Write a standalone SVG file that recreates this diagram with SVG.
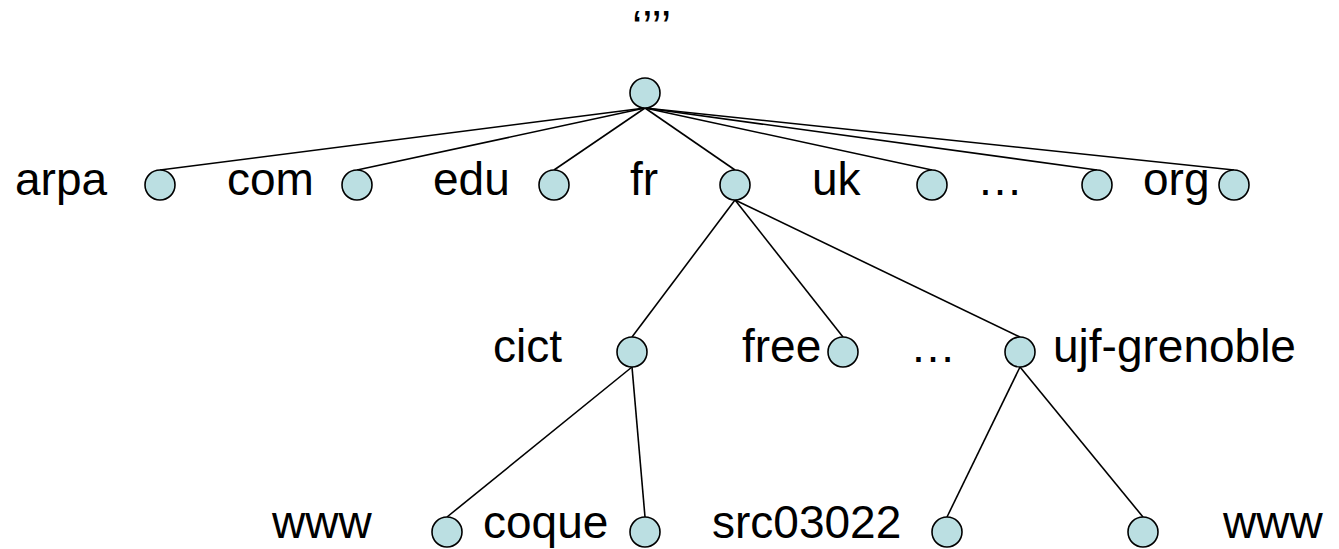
<svg xmlns="http://www.w3.org/2000/svg" width="1339" height="549" viewBox="0 0 1339 549">
  <style>
    .node circle { fill: #bbdfe2; stroke: #000; stroke-width: 1.6; }
    .edges line { stroke: #000; stroke-width: 1.6; }
    text { font-family: "Liberation Sans", Arial, sans-serif; font-size: 46px; fill: #000; }
  </style>
  <rect width="1339" height="549" fill="#fff"/>

  <!-- root label -->
  <text x="632" y="43">&#8216;&#8217;&#8217;&#8217;</text>

  <!-- connectors: parent bottom to child top -->
  <g class="edges">
    <line x1="645" y1="108" x2="160" y2="170"/>
    <line x1="645" y1="108" x2="357" y2="170"/>
    <line x1="645" y1="108" x2="554" y2="170"/>
    <line x1="645" y1="108" x2="735" y2="170"/>
    <line x1="645" y1="108" x2="932" y2="170"/>
    <line x1="645" y1="108" x2="1097" y2="170"/>
    <line x1="645" y1="108" x2="1234" y2="170"/>
    <line x1="735" y1="200" x2="632" y2="337"/>
    <line x1="735" y1="200" x2="843" y2="337"/>
    <line x1="735" y1="200" x2="1020" y2="337"/>
    <line x1="632" y1="367" x2="447" y2="517"/>
    <line x1="632" y1="367" x2="645" y2="517"/>
    <line x1="1020" y1="367" x2="947" y2="517"/>
    <line x1="1020" y1="367" x2="1143" y2="517"/>
  </g>

  <g id="root" class="node"><circle cx="645" cy="93" r="15"/></g>

  <g id="arpa" class="node"><circle cx="160" cy="185" r="15"/><text x="15" y="195">arpa</text></g>
  <g id="com" class="node"><circle cx="357" cy="185" r="15"/><text x="227" y="195">com</text></g>
  <g id="edu" class="node"><circle cx="554" cy="185" r="15"/><text x="433" y="195">edu</text></g>
  <g id="fr" class="node"><circle cx="735" cy="185" r="15"/><text x="630" y="195">fr</text></g>
  <g id="uk" class="node"><circle cx="932" cy="185" r="15"/><text x="812" y="195">uk</text></g>
  <g id="etc1" class="node"><circle cx="1097" cy="185" r="15"/><text x="977" y="195">&#8230;</text></g>
  <g id="org" class="node"><circle cx="1234" cy="185" r="15"/><text x="1143" y="195">org</text></g>

  <g id="cict" class="node"><circle cx="632" cy="352" r="15"/><text x="493" y="362">cict</text></g>
  <g id="free" class="node"><circle cx="843" cy="352" r="15"/><text x="742" y="362">free</text></g>
  <g id="etc2" class="node"><text x="910" y="362">&#8230;</text></g>
  <g id="ujf-grenoble" class="node"><circle cx="1020" cy="352" r="15"/><text x="1053" y="362">ujf-grenoble</text></g>

  <g id="www-cict" class="node"><circle cx="447" cy="532" r="15"/><text x="272" y="538">www</text></g>
  <g id="coque" class="node"><circle cx="645" cy="532" r="15"/><text x="483" y="538">coque</text></g>
  <g id="src03022" class="node"><circle cx="947" cy="532" r="15"/><text x="712" y="538">src03022</text></g>
  <g id="www-ujf" class="node"><circle cx="1143" cy="532" r="15"/><text x="1223" y="538">www</text></g>
</svg>
